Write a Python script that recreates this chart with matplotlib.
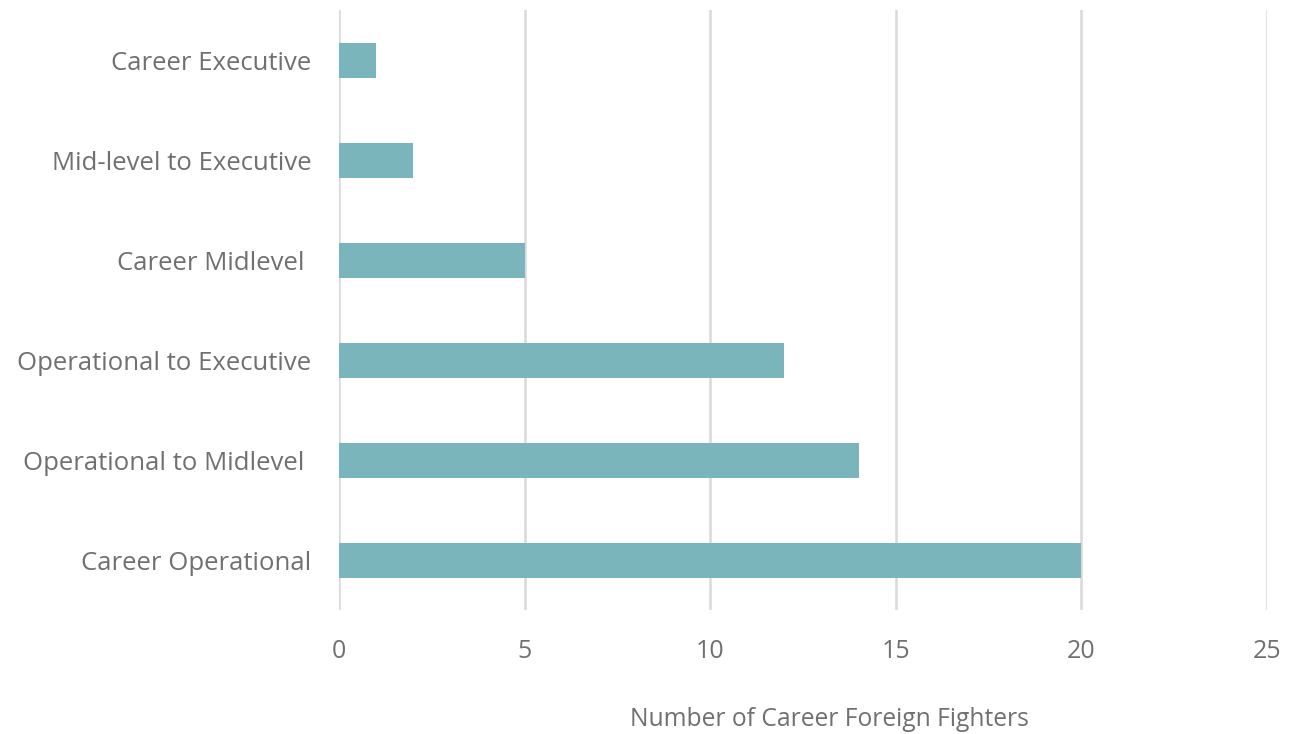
import matplotlib.pyplot as plt

categories = ["Career Operational", "Operational to Midlevel ", "Operational to Executive",
              "Career Midlevel ", "Mid-level to Executive", "Career Executive"]
counts = [20, 14, 12, 5, 2, 1]
xticks = [0, 5, 10, 15, 20, 25]

plt.rcParams['font.family'] = ['Open Sans', 'DejaVu Sans']
txt = '#707070'

fig = plt.figure(figsize=(12.93, 7.34), dpi=100)
ax = fig.add_axes([339/1293, 124/734, 928/1293, 600/734])

ax.barh(range(len(categories)), counts, height=0.35, color='#7AB5BC', zorder=3)
ax.set_xlim(0, 25)
ax.set_ylim(-0.5, len(categories) - 0.5)
ax.set_xticks(xticks)
ax.set_yticks(range(len(categories)))
ax.set_yticklabels(categories)
ax.tick_params(axis='x', length=0, pad=21, labelsize=18, labelcolor=txt)
ax.tick_params(axis='y', length=0, pad=20, labelsize=18.5, labelcolor=txt)
ax.grid(axis='x', color='#D9D9D9', linewidth=1.8, zorder=0)
for s in ax.spines.values():
    s.set_visible(False)

fig.text(829/1293, 1 - 720/734, "Number of Career Foreign Fighters", ha='center', va='center',
         fontsize=17.7, color=txt)

fig.savefig("out.png", dpi=100)
